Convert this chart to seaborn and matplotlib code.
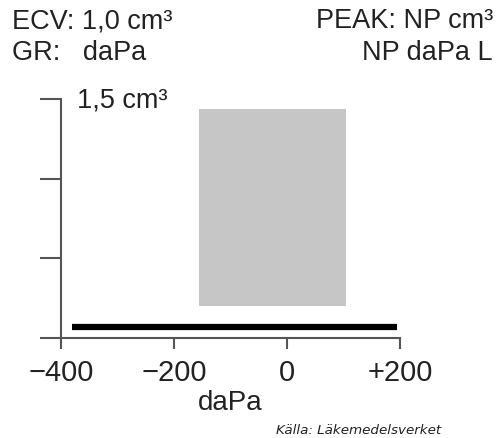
import matplotlib
matplotlib.use("Agg")
import matplotlib.pyplot as plt
import seaborn as sns
import pandas as pd

# Tympanogram values
curve_pressure = [-380, 195]      # daPa
curve_volume = [0.07, 0.07]       # cm3, flat curve (no peak)
norm_pressure = [-155, 105]       # normal area, daPa
norm_low = [0.2, 0.2]
norm_high = [1.44, 1.44]
x_ticks = [-400, -200, 0, 200]
x_labels = ["\u2212400", "\u2212200", "0", "+200"]
y_ticks = [0, 0.5, 1.0, 1.5]

header_left = ["ECV: 1,0 cm\u00b3", "GR:   daPa"]
header_right = ["PEAK: NP cm\u00b3", "NP daPa L"]

sns.set_theme(style="ticks")
plt.rcParams["font.family"] = ["Liberation Sans", "DejaVu Sans"]

fig = plt.figure(figsize=(4.98, 4.38), dpi=100)
ax = fig.add_axes([61 / 498, 100 / 438, 339 / 498, 239 / 438])

df = pd.DataFrame({"daPa": curve_pressure, "cm3": curve_volume})

ax.fill_between(norm_pressure, norm_low, norm_high, color="#c6c6c6", lw=0, zorder=1)
sns.lineplot(data=df, x="daPa", y="cm3", ax=ax, color="black", lw=4.5,
             solid_capstyle="butt", zorder=3)

ax.set_xlim(-400, 200)
ax.set_ylim(0, 1.5)
ax.set_xticks(x_ticks)
ax.set_xticklabels(x_labels, fontsize=21, color="#222222")
ax.set_yticks(y_ticks)
ax.set_yticklabels([])
ax.tick_params(axis="x", direction="out", length=8, width=1.5, color="#555555", pad=7)
ax.tick_params(axis="y", direction="out", length=15, width=1.5, color="#555555")
for s in ["top", "right"]:
    ax.spines[s].set_visible(False)
for s in ["left", "bottom"]:
    ax.spines[s].set_color("#555555")
    ax.spines[s].set_linewidth(1.5)

ax.set_xlabel("daPa", fontsize=20, color="#222222", labelpad=2)
ax.set_ylabel("")
ax.text(-372, 1.49, "1,5 cm\u00b3", fontsize=19.5, ha="left", va="center", color="#222222")

fig.text(12 / 498, 1 - 21 / 438, header_left[0], fontsize=19.5, ha="left", va="center", color="#222222")
fig.text(12 / 498, 1 - 53 / 438, header_left[1], fontsize=19.5, ha="left", va="center", color="#222222")
fig.text(493 / 498, 1 - 21 / 438, header_right[0], fontsize=19.5, ha="right", va="center", color="#222222")
fig.text(493 / 498, 1 - 53 / 438, header_right[1], fontsize=19.5, ha="right", va="center", color="#222222")

fig.text(441 / 498, 1 - 431 / 438, "K\u00e4lla: L\u00e4kemedelsverket", fontsize=9.7,
         style="italic", family="DejaVu Sans", ha="right", va="center", color="#222222")

fig.savefig("out.png", dpi=100)
